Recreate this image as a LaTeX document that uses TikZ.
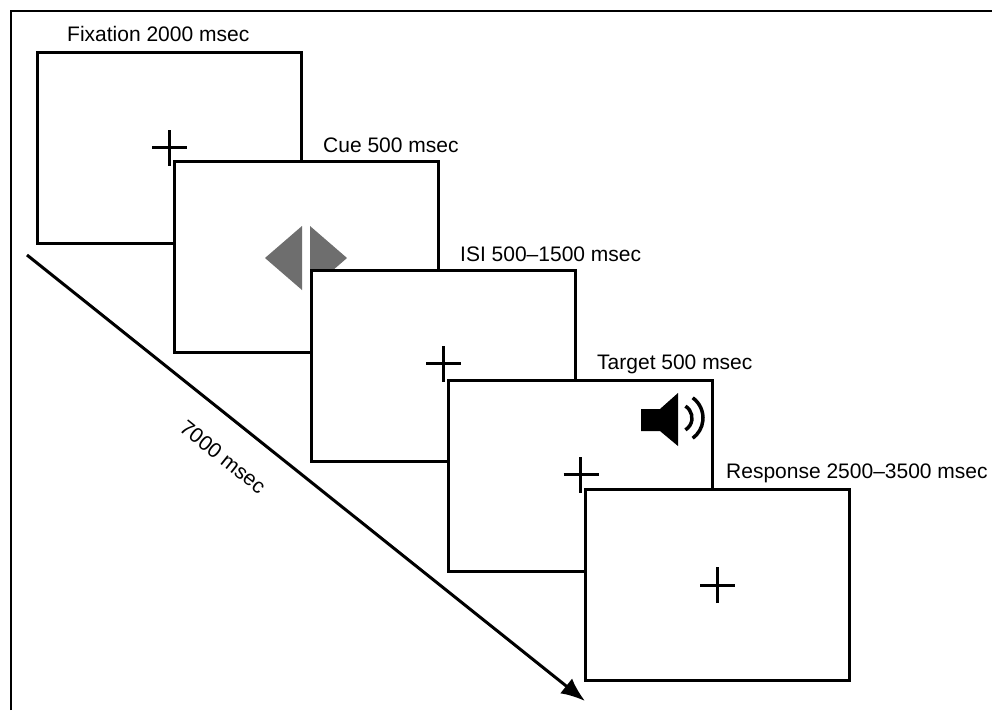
\documentclass[tikz,border=0pt]{standalone}
\usepackage{fontspec}
\setmainfont{Liberation Sans}
\usetikzlibrary{arrows.meta}
\begin{document}
\begin{tikzpicture}[x=1pt,y=-1pt,
  frame/.style={draw=black,fill=white,line width=3pt,minimum width=264pt,minimum height=191pt,inner sep=0pt},
  lbl/.style={anchor=base west,inner sep=0pt,font=\fontsize{21}{25}\selectfont},
  crossline/.style={line width=3pt},
  cuetri/.style={fill=black!57,draw=none}]
\useasboundingbox (0,0) rectangle (992,710);
\fill[white] (0,0) rectangle (992,710);
% outer border (top and left only)
\coordinate (bl) at (11,710);
\coordinate (tl) at (11,11);
\coordinate (tr) at (992,11);
\draw[line width=2.5pt] (bl) -- (tl) -- (tr);
% timeline arrow
\coordinate (tstart) at (27,255);
\coordinate (tend) at (585,701);
\draw[line width=3pt,-{Latex[length=24pt,width=19pt]}] (tstart) -- (tend);
\node[lbl,anchor=center,rotate=-38.6] (dur) at (223,457) {7000 msec};
% frame 1
\node[frame] (f1) at (169,147.5) {};
\draw[crossline] ([xshift=-17pt]f1.center) -- ([xshift=18pt]f1.center);
\draw[crossline] ([yshift=-18pt]f1.center) -- ([yshift=18pt]f1.center);
\node[lbl] (l1) at (67,41) {Fixation 2000 msec};
% frame 2
\node[frame] (f2) at (306.5,256.5) {};
\node[lbl] (l2) at (323,152) {Cue 500 msec};
\fill[cuetri] (302,226) -- (302,290) -- (265,258) -- cycle;
\fill[cuetri] (310,226) -- (310,290) -- (347,258) -- cycle;
% frame 3
\node[frame] (f3) at (443,365.5) {};
\draw[crossline] ([xshift=-17pt,yshift=2pt]f3.center) -- ([xshift=18pt,yshift=2pt]f3.center);
\draw[crossline] ([yshift=-16pt]f3.center) -- ([yshift=20pt]f3.center);
\node[lbl] (l3) at (460,261) {ISI 500--1500 msec};
% frame 4
\node[frame] (f4) at (580.5,475.5) {};
\draw[crossline] ([xshift=-17pt,yshift=1pt]f4.center) -- ([xshift=18pt,yshift=1pt]f4.center);
\draw[crossline] ([yshift=-17pt]f4.center) -- ([yshift=19pt]f4.center);
\node[lbl] (l4) at (597,369) {Target 500 msec};
\fill[black] (641,409) -- (660,409) -- (678,393) -- (678,446) -- (660,431) -- (641,431) -- cycle;
\draw[line width=3.5pt] (678,418) ++(-58:14) arc[start angle=-58,end angle=58,radius=14];
\draw[line width=3.5pt] (678,418) ++(-54:25) arc[start angle=-54,end angle=54,radius=25];
% frame 5
\node[frame] (f5) at (717,585) {};
\draw[crossline] ([xshift=-17pt]f5.center) -- ([xshift=18pt]f5.center);
\draw[crossline] ([yshift=-18pt]f5.center) -- ([yshift=18pt]f5.center);
\node[lbl] (l5) at (726,478) {Response 2500--3500 msec};
\end{tikzpicture}
\end{document}
